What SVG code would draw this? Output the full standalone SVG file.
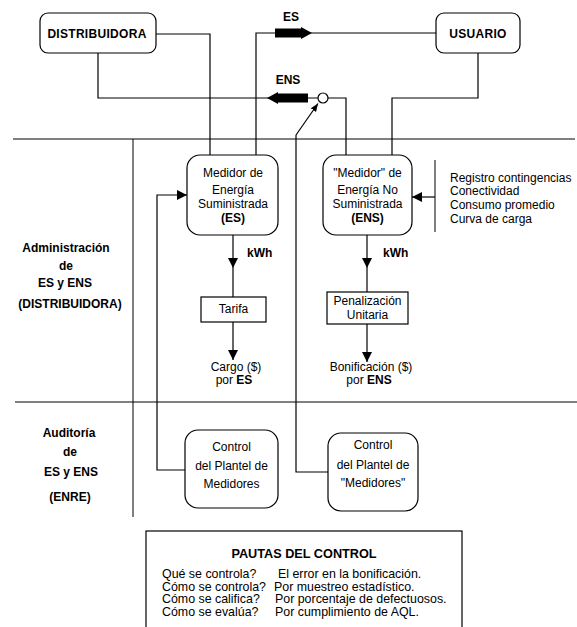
<svg xmlns="http://www.w3.org/2000/svg" width="577" height="627" viewBox="0 0 577 627">
<style>
text{font-family:"Liberation Sans",Arial,sans-serif;font-size:12px;fill:#000}
.b{font-weight:bold}
.c{text-anchor:middle}
.box{fill:#fff;stroke:#000;stroke-width:1.2}
.ln{fill:none;stroke:#000;stroke-width:1.2}
.thin{fill:none;stroke:#000;stroke-width:1}
.p{font-size:12.4px}
</style>
<defs>
<marker id="ah" viewBox="0 0 10 10" refX="10" refY="5" markerWidth="10" markerHeight="10" markerUnits="userSpaceOnUse" orient="auto">
<path d="M0,0 L10,5 L0,10 Z" fill="#000"/>
</marker>
<marker id="ahs" viewBox="0 0 10 10" refX="10" refY="5" markerWidth="8" markerHeight="8" markerUnits="userSpaceOnUse" orient="auto">
<path d="M0,1 L10,5 L0,9 Z" fill="#000"/>
</marker>
</defs>

<g id="dividers">
<line class="thin" x1="13" y1="139" x2="575" y2="139"/>
<line class="thin" x1="15" y1="402" x2="577" y2="402"/>
<line class="thin" x1="133" y1="139" x2="133" y2="517"/>
<line class="thin" x1="435" y1="160" x2="435" y2="232"/>
</g>

<g id="connectors">
<polyline class="ln" points="156,34 210,34 210,155"/>
<polyline class="ln" points="98,53 98,98 346,98 346,155"/>
<polyline class="ln" points="256,155 256,33 436,33"/>
<polyline class="ln" points="478,53 478,98 392,98 392,155"/>
<polyline class="ln" points="328,472 296,472 296,135"/>
<line class="ln" x1="296" y1="135" x2="318" y2="103.5" marker-end="url(#ahs)"/>
<polyline class="ln" points="185,470 157,470 157,195 187,195" marker-end="url(#ah)"/>
<line class="ln" x1="435" y1="197" x2="412" y2="197" marker-end="url(#ah)"/>
<line class="ln" x1="233" y1="235" x2="233" y2="268" marker-end="url(#ah)"/>
<line class="ln" x1="233" y1="268" x2="233" y2="297"/>
<line class="ln" x1="367" y1="235" x2="367" y2="268" marker-end="url(#ah)"/>
<line class="ln" x1="367" y1="268" x2="367" y2="292"/>
<line class="ln" x1="233" y1="322" x2="233" y2="360" marker-end="url(#ah)"/>
<line class="ln" x1="367" y1="324" x2="367" y2="362" marker-end="url(#ah)"/>
<path d="M275,28.5 H301 V27 L312,33 L301,39 V37.5 H275 Z" fill="#000"/>
<path d="M308,93.5 H278 V92 L267,98 L278,104 V102.5 H308 Z" fill="#000"/>
<circle cx="323" cy="98" r="5" fill="#fff" stroke="#000" stroke-width="1.2"/>
<text class="b c" x="291" y="21">ES</text>
<text class="b c" x="288" y="84">ENS</text>
<text class="b" x="247" y="257">kWh</text>
<text class="b" x="383" y="257">kWh</text>
</g>

<g id="distribuidora">
<rect class="box" x="40" y="13" width="116" height="40" rx="8"/>
<text class="b c" x="97" y="38" letter-spacing="0.3">DISTRIBUIDORA</text>
</g>

<g id="usuario">
<rect class="box" x="436" y="13" width="84" height="40" rx="8"/>
<text class="b c" x="478" y="38" letter-spacing="0.3">USUARIO</text>
</g>

<g id="medidor-es">
<rect class="box" x="187" y="155" width="91" height="80" rx="13"/>
<text class="c" x="233" y="177">Medidor de</text>
<text class="c" x="233" y="194">Energía</text>
<text class="c" x="233" y="208">Suministrada</text>
<text class="c b" x="233" y="222">(ES)</text>
</g>

<g id="medidor-ens">
<rect class="box" x="323" y="155" width="89" height="80" rx="13"/>
<text class="c" x="367.5" y="177">"Medidor" de</text>
<text class="c" x="367.5" y="194">Energía No</text>
<text class="c" x="367.5" y="208">Suministrada</text>
<text class="c b" x="367.5" y="222">(ENS)</text>
</g>

<g id="ens-info">
<text x="450" y="182">Registro contingencias</text>
<text x="450" y="195">Conectividad</text>
<text x="450" y="209">Consumo promedio</text>
<text x="450" y="223">Curva de carga</text>
</g>

<g id="tarifa">
<rect class="box" x="201" y="297" width="65" height="25"/>
<text class="c" x="233.5" y="313">Tarifa</text>
</g>

<g id="penalizacion">
<rect class="box" x="327" y="292" width="81" height="32"/>
<text class="c" x="367.5" y="305">Penalización</text>
<text class="c" x="367.5" y="319">Unitaria</text>
</g>

<g id="cargo">
<text class="c" x="236" y="371">Cargo ($)</text>
<text class="c" x="234" y="384">por <tspan class="b">ES</tspan></text>
</g>

<g id="bonificacion">
<text class="c" x="371" y="371">Bonificación ($)</text>
<text class="c" x="369" y="384">por <tspan class="b">ENS</tspan></text>
</g>

<g id="admin-label">
<text class="b c" x="66" y="252">Administración</text>
<text class="b c" x="66" y="270">de</text>
<text class="b c" x="65" y="287">ES y ENS</text>
<text class="b c" x="70" y="308">(DISTRIBUIDORA)</text>
</g>

<g id="auditoria-label">
<text class="b c" x="69" y="437">Auditoría</text>
<text class="b c" x="70" y="456">de</text>
<text class="b c" x="71" y="476">ES y ENS</text>
<text class="b c" x="70" y="501">(ENRE)</text>
</g>

<g id="control-es">
<rect class="box" x="185" y="430" width="93" height="78" rx="13"/>
<text class="c" x="231.5" y="451">Control</text>
<text class="c" x="231.5" y="470">del Plantel de</text>
<text class="c" x="231.5" y="488">Medidores</text>
</g>

<g id="control-ens">
<rect class="box" x="328" y="433" width="90" height="78" rx="13"/>
<text class="c" x="373" y="449">Control</text>
<text class="c" x="373" y="469">del Plantel de</text>
<text class="c" x="373" y="487">"Medidores"</text>
</g>

<g id="pautas">
<rect class="box" x="146" y="531" width="316" height="100"/>
<text class="b c" x="304" y="558" style="font-size:12.7px">PAUTAS DEL CONTROL</text>
<text class="p" x="162" y="578">Qué se controla?</text>
<text class="p" x="278" y="578">El error en la bonificación.</text>
<text class="p" x="162" y="590.5">Cómo se controla?</text>
<text class="p" x="274" y="590.5">Por muestreo estadístico.</text>
<text class="p" x="162" y="603">Cómo se califica?</text>
<text class="p" x="275" y="603">Por porcentaje de defectuosos.</text>
<text class="p" x="162" y="615.5">Cómo se evalúa?</text>
<text class="p" x="275" y="615.5">Por cumplimiento de AQL.</text>
</g>
</svg>
